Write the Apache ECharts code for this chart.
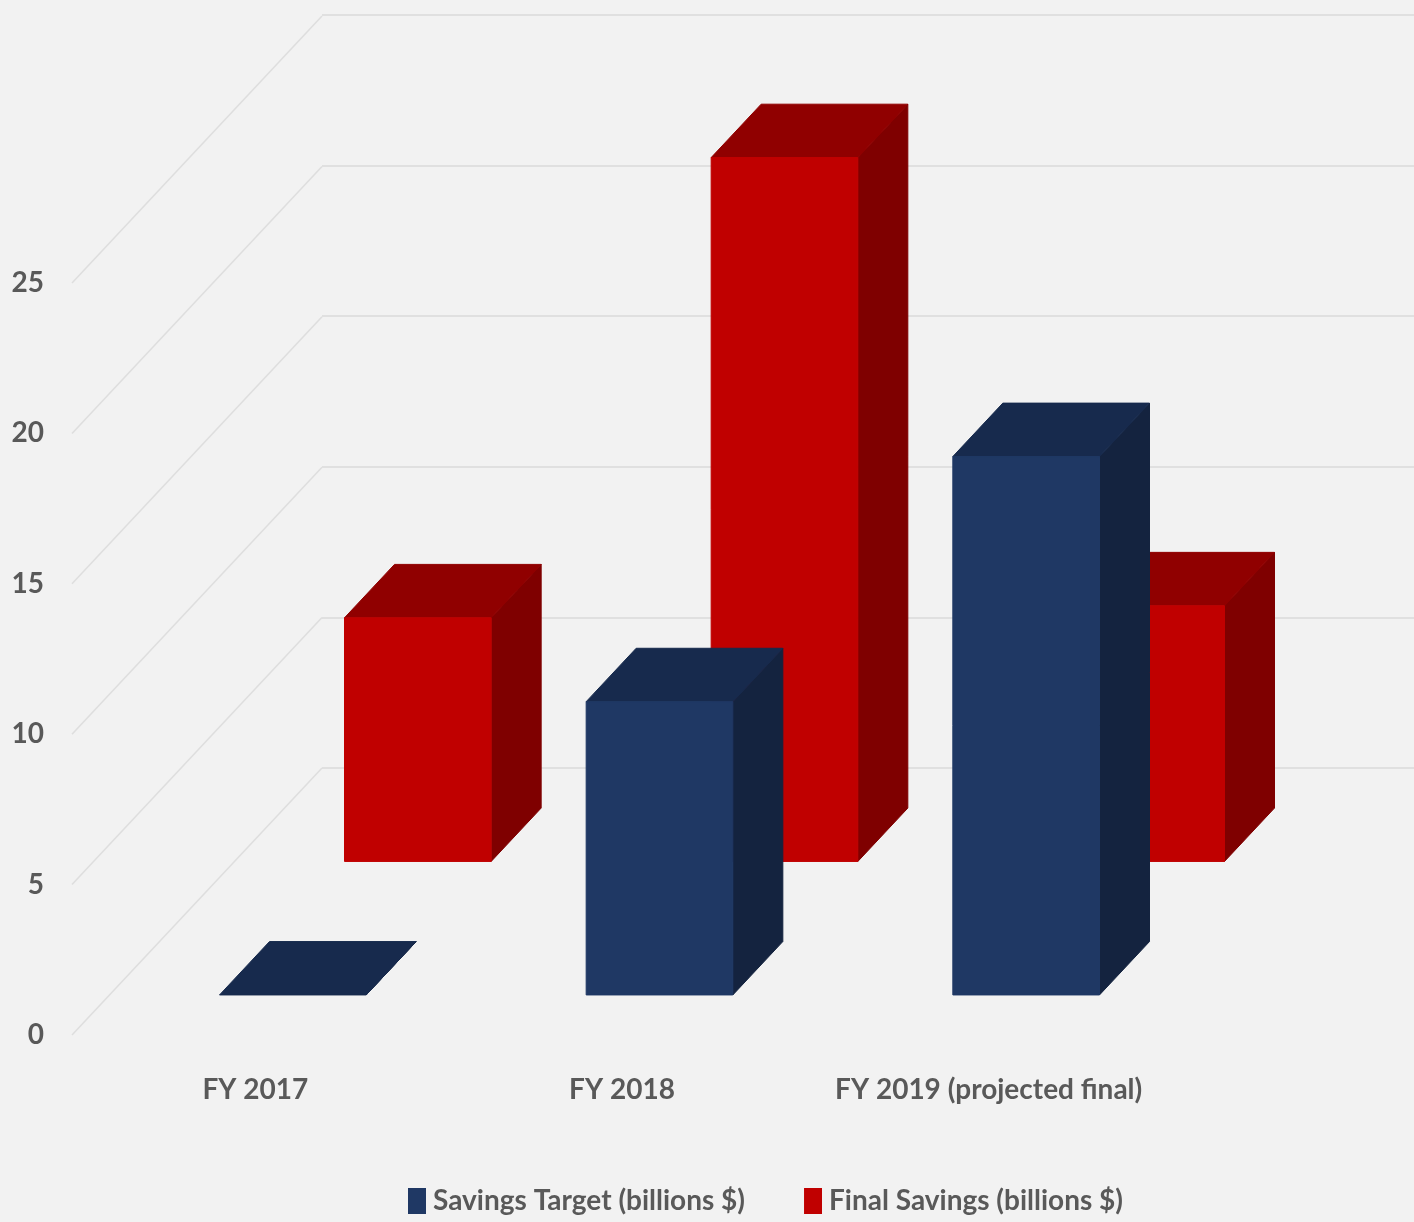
<!DOCTYPE html>
<html>
<head>
<meta charset="utf-8">
<title>Savings</title>
<script src="https://cdn.jsdelivr.net/npm/echarts@6/dist/echarts.min.js"></script>
<style>
html,body{margin:0;padding:0;background:#f2f2f2;}
#main{width:1414px;height:1222px;}
</style>
</head>
<body>
<div id="main"></div>
<script>
var categories = ['FY 2017', 'FY 2018', 'FY 2019 (projected final)'];
var savingsTarget = [0, 9.75, 17.9];
var finalSavings = [8.1, 23.4, 8.5];
var yTicks = [0, 5, 10, 15, 20, 25];

var labelFont = 'Lato, sans-serif';
var labelColor = '#595959';
var labelSize = 28;
// full depth of the floor, in pixels
var depthX = 250, depthY = -267;
var depthSize = 0.2;

function pt(p, d) {
    return [p[0] + d * depthX, p[1] + d * depthY];
}

function face(points, color) {
    return {type: 'polygon', shape: {points: points}, style: {fill: color, stroke: color, lineWidth: 1}};
}

// one 3d column, d = how far back it stands on the floor
function barItem(depth, front, side, top) {
    return function (params, api) {
        var base = api.coord([api.value(0), 0]);
        var head = api.coord([api.value(0), api.value(1)]);
        var half = api.size([1, 0])[0] * 0.2;
        var bl = pt([base[0] - half, base[1]], depth);
        var br = pt([base[0] + half, base[1]], depth);
        var tl = pt([base[0] - half, head[1]], depth);
        var tr = pt([base[0] + half, head[1]], depth);
        var children = [
            face([br, tr, pt(tr, depthSize), pt(br, depthSize)], side),
            face([tl, tr, pt(tr, depthSize), pt(tl, depthSize)], top)
        ];
        if (api.value(1) > 0) {
            children.push(face([bl, br, tr, tl], front));
        }
        return {type: 'group', children: children};
    };
}

// side wall lines going from the labels to the back wall
function wallItem(params, api) {
    var p = api.coord([0, api.value(0)]);
    var start = [72, p[1]];
    return {
        type: 'line',
        shape: {x1: start[0], y1: start[1], x2: start[0] + depthX, y2: start[1] + depthY},
        style: {stroke: '#dedede', lineWidth: 1.5}
    };
}

function toRows(arr) {
    return arr.map(function (v, i) { return [i, v]; });
}

var myChart = echarts.init(document.getElementById('main'));
var option = {
    animation: false,
    backgroundColor: '#f2f2f2',
    legend: {
        data: ['Savings Target (billions $)', 'Final Savings (billions $)'],
        left: 408,
        top: 1187,
        padding: 0,
        icon: 'rect',
        itemWidth: 18,
        itemHeight: 26,
        itemGap: 59,
        textStyle: {fontFamily: labelFont, fontSize: labelSize, fontWeight: 'bold', color: labelColor, padding: [0, 0, 0, 2]}
    },
    grid: [
        {left: 72, top: 283, width: 1100, height: 752},
        {left: 322, top: 15, right: 0, height: 753}
    ],
    xAxis: [
        {
            type: 'category',
            gridIndex: 0,
            data: categories,
            axisLine: {show: false},
            axisTick: {show: false},
            axisLabel: {interval: 0, margin: 41, fontFamily: labelFont, fontSize: labelSize, fontWeight: 'bold', color: labelColor}
        },
        {type: 'value', gridIndex: 1, min: 0, max: 1, show: false}
    ],
    yAxis: [
        {
            type: 'value',
            gridIndex: 0,
            min: 0,
            max: 25,
            interval: 5,
            splitLine: {show: false},
            axisLine: {show: false},
            axisTick: {show: false},
            axisLabel: {margin: 28, padding: [8, 0, 0, 0], fontFamily: labelFont, fontSize: labelSize, fontWeight: 'bold', color: labelColor}
        },
        {
            type: 'value',
            gridIndex: 1,
            min: 0,
            max: 25,
            interval: 5,
            axisLine: {show: false},
            axisTick: {show: false},
            axisLabel: {show: false},
            splitLine: {show: true, lineStyle: {color: '#e0e0e0', width: 2}}
        }
    ],
    series: [
        {
            name: 'walls',
            type: 'custom',
            xAxisIndex: 0,
            yAxisIndex: 0,
            z: 1,
            silent: true,
            renderItem: wallItem,
            encode: {y: 0},
            data: yTicks
        },
        {
            name: 'Savings Target (billions $)',
            type: 'custom',
            xAxisIndex: 0,
            yAxisIndex: 0,
            z: 4,
            itemStyle: {color: '#1f3864'},
            renderItem: barItem(0.15, '#1f3864', '#14233f', '#172a4d'),
            encode: {x: 0, y: 1},
            data: toRows(savingsTarget)
        },
        {
            name: 'Final Savings (billions $)',
            type: 'custom',
            xAxisIndex: 0,
            yAxisIndex: 0,
            z: 3,
            itemStyle: {color: '#c00000'},
            renderItem: barItem(0.65, '#c00000', '#7f0000', '#900000'),
            encode: {x: 0, y: 1},
            data: toRows(finalSavings)
        }
    ]
};
myChart.setOption(option);
</script>
</body>
</html>
